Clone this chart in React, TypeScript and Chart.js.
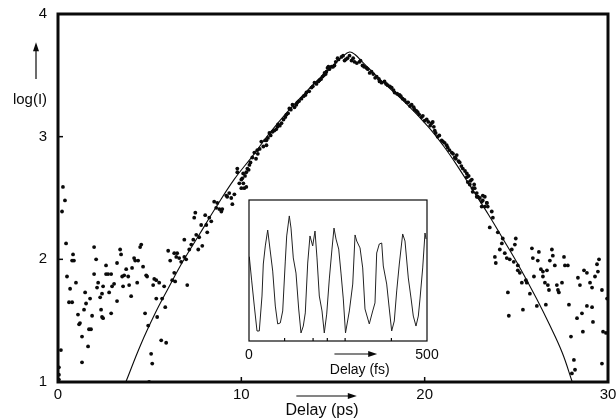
import React, { useEffect, useRef } from 'react';
import { Chart, registerables } from 'chart.js';

Chart.register(...registerables);

const FONT = '"Liberation Sans", Arial, Helvetica, sans-serif';
const INK = '#0a0a0a';

// ---- main axes ----
const xRange = [0, 30];
const yRange = [1, 4];
const xStep = 10;
const yStep = 1;
const xTitle = 'Delay (ps)';
const yTitle = 'log(I)';

// ---- measured points (delay in ps, log I) ----
const leftTailPoints: [number, number][] = [
  [0.27, 2.59], [0.38, 2.48], [0.22, 2.39], [0.44, 2.13], [0.82, 2.04], [0.77, 1.99], [0.87, 1.99],
  [0.49, 1.86], [0.66, 1.76], [0.6, 1.65], [0.77, 1.65], [0.98, 1.81], [1.09, 1.55], [1.2, 1.48],
  [1.15, 1.47], [1.31, 1.37], [1.31, 1.16], [1.64, 1.29], [1.48, 1.73], [1.53, 1.64], [1.42, 1.59],
  [1.75, 1.68], [1.69, 1.43], [1.8, 1.43], [1.86, 1.54], [1.97, 2.1], [2.08, 2.0], [1.97, 1.88],
  [2.19, 1.81], [2.13, 1.77], [2.3, 1.69], [2.4, 1.72], [2.35, 1.59], [2.4, 1.53], [2.46, 1.52],
  [2.62, 1.95], [2.62, 1.88], [2.73, 1.88], [2.9, 1.88], [2.46, 1.78], [2.79, 1.73], [2.9, 1.56],
  [2.95, 1.78], [3.06, 1.8], [3.22, 1.97], [3.39, 2.08], [3.44, 2.04], [3.22, 1.66], [3.5, 1.86],
  [3.61, 1.87], [3.72, 1.92], [3.83, 1.86], [3.88, 1.79], [3.55, 1.78], [3.99, 1.7], [4.15, 2.01],
  [4.21, 1.99], [4.37, 1.99], [4.04, 1.93], [4.32, 1.81], [4.48, 2.1], [4.54, 2.12], [4.64, 1.94],
  [4.81, 1.87], [4.86, 1.86], [4.75, 1.56], [5.25, 1.84], [5.36, 1.83], [5.19, 1.79], [5.52, 1.81],
  [5.79, 1.78], [5.36, 1.68], [5.68, 1.68], [5.85, 1.61], [5.41, 1.53], [4.92, 1.46], [5.63, 1.34],
  [5.9, 1.32], [5.08, 1.23], [5.14, 1.15], [4.97, 1.0], [0.16, 1.26], [0.05, 1.12], [0.05, 1.06],
  [0.05, 1.02], [6.34, 1.89], [6.39, 1.82], [7.05, 1.79], [6.23, 1.83],
];

const risingEdgePoints: [number, number][] = [
  [6.01, 2.07], [6.12, 1.99], [6.34, 2.05], [6.5, 2.05], [6.45, 2.02], [6.61, 2.01], [6.72, 1.98],
  [6.89, 2.02], [6.99, 2.0], [6.89, 2.16], [7.16, 2.08], [7.27, 2.12], [7.38, 2.16], [7.54, 2.2],
  [7.7, 2.18], [7.65, 2.08], [7.87, 2.11], [7.81, 2.28], [8.09, 2.28], [8.14, 2.22], [7.49, 2.38],
  [7.43, 2.34], [8.03, 2.36], [8.25, 2.34], [8.36, 2.31], [8.52, 2.47], [8.69, 2.46], [8.63, 2.42],
  [8.8, 2.41], [8.96, 2.41], [8.91, 2.39], [9.18, 2.52], [9.34, 2.54], [9.45, 2.5], [9.51, 2.45],
  [9.62, 2.53], [9.78, 2.71], [10.0, 2.65], [10.11, 2.62], [10.16, 2.58], [9.23, 2.51], [9.89, 2.62],
  [10.05, 2.66], [10.27, 2.59], [10.0, 2.58], [9.78, 2.74], [10.27, 2.71], [10.33, 2.74], [10.44, 2.77],
];

const crestPoints: [number, number][] = [
  [10.6, 2.83], [10.71, 2.87], [10.87, 2.89], [11.09, 2.96], [11.37, 2.93], [11.37, 2.97], [11.53, 3.03],
  [11.8, 3.05], [11.97, 3.08], [12.19, 3.11], [12.46, 3.18], [12.62, 3.23], [12.79, 3.26], [13.06, 3.28],
  [13.28, 3.31], [13.55, 3.36], [13.83, 3.4], [13.99, 3.44], [14.26, 3.46], [14.43, 3.49], [14.64, 3.53],
  [14.75, 3.57], [14.54, 3.52], [14.7, 3.56], [14.92, 3.57], [15.08, 3.58], [15.25, 3.64], [15.46, 3.65],
  [15.63, 3.62], [15.79, 3.64], [16.01, 3.62], [16.17, 3.61], [16.45, 3.61], [16.61, 3.58], [16.83, 3.56],
  [17.1, 3.53], [17.38, 3.49], [17.54, 3.45], [17.81, 3.45], [17.98, 3.42], [18.2, 3.4], [18.36, 3.36],
  [18.63, 3.34], [18.8, 3.31], [19.02, 3.28], [19.29, 3.26], [19.45, 3.22], [19.62, 3.2], [19.84, 3.16],
  [20.11, 3.14], [20.38, 3.11], [20.44, 3.12], [20.55, 3.05], [20.71, 3.0], [20.93, 2.97], [21.09, 2.95],
  [21.26, 2.91], [21.48, 2.87], [21.64, 2.83], [21.75, 2.85], [21.91, 2.79], [22.08, 2.74], [22.3, 2.7],
  [22.57, 2.65], [22.73, 2.58], [22.9, 2.51], [23.17, 2.48], [23.39, 2.46],
  [10.1, 2.7], [10.2, 2.68], [10.4, 2.73], [10.5, 2.79], [10.8, 2.82], [10.9, 2.86], [11.0, 2.9],
  [11.2, 2.92], [11.3, 2.97], [11.45, 2.99], [11.6, 3.01], [11.7, 3.04], [11.9, 3.06], [12.0, 3.1],
  [12.1, 3.09], [12.3, 3.14], [12.4, 3.16], [12.55, 3.19], [12.7, 3.22], [12.9, 3.24], [13.0, 3.26],
  [13.15, 3.29], [13.4, 3.33], [13.5, 3.34], [13.7, 3.37], [13.9, 3.41], [14.1, 3.43], [14.2, 3.45],
  [14.35, 3.47], [14.5, 3.5], [14.6, 3.51], [14.8, 3.55], [15.0, 3.57], [15.15, 3.61], [15.3, 3.63],
  [15.55, 3.66], [15.7, 3.63], [15.9, 3.66], [16.1, 3.64], [16.3, 3.6], [16.5, 3.62], [16.7, 3.57],
  [16.9, 3.55], [17.0, 3.52], [17.2, 3.51], [17.3, 3.48], [17.5, 3.47], [17.65, 3.44], [17.9, 3.43],
  [18.1, 3.41], [18.3, 3.38], [18.5, 3.35], [18.7, 3.33], [18.9, 3.3], [19.1, 3.28], [19.2, 3.25],
  [19.4, 3.24], [19.55, 3.21], [19.7, 3.18], [19.9, 3.17], [20.0, 3.13], [20.2, 3.12], [20.3, 3.09],
  [20.5, 3.08], [20.6, 3.03], [20.8, 3.01], [21.0, 2.96], [21.2, 2.93], [21.35, 2.89], [21.55, 2.86],
  [21.7, 2.82], [21.85, 2.8], [22.0, 2.76], [22.2, 2.72], [22.4, 2.68], [22.5, 2.64], [22.7, 2.61],
];

const fallingEdgePoints: [number, number][] = [
  [22.3, 2.67], [22.35, 2.63], [22.46, 2.61], [22.62, 2.58], [22.62, 2.55], [22.84, 2.54], [22.84, 2.51],
  [23.01, 2.5], [23.17, 2.52], [23.28, 2.51], [23.11, 2.47], [23.39, 2.46], [23.44, 2.43], [23.28, 2.43],
  [23.11, 2.43], [23.66, 2.39], [23.72, 2.34], [23.55, 2.26], [23.99, 2.22], [24.21, 2.13], [24.26, 2.17],
  [24.97, 2.17], [24.92, 2.12], [24.1, 2.08], [24.37, 2.05], [24.75, 2.08], [23.83, 2.02], [23.88, 1.97],
  [24.48, 2.01], [24.64, 2.0], [24.86, 1.98], [25.08, 1.95], [25.08, 1.91], [25.19, 1.89], [25.52, 1.83],
  [25.3, 1.81], [25.57, 1.81],
];

const rightTailPoints: [number, number][] = [
  [25.85, 2.09], [26.23, 2.06], [25.9, 2.01], [26.17, 1.99], [25.96, 1.86], [26.34, 1.92], [26.45, 1.9],
  [26.67, 1.91], [26.45, 1.86], [26.56, 1.81], [26.72, 1.79], [26.94, 2.08], [26.99, 2.03], [26.83, 1.99],
  [27.1, 1.95], [26.78, 1.75], [27.21, 1.79], [27.27, 1.75], [27.49, 1.81], [27.6, 2.02], [27.65, 1.95],
  [27.81, 1.95], [27.32, 1.73], [25.74, 1.72], [24.54, 1.73], [26.61, 1.63], [26.12, 1.62], [25.36, 1.59],
  [24.59, 1.54], [27.87, 1.63], [27.98, 1.37], [28.14, 1.18], [28.2, 1.1], [28.03, 1.07], [28.36, 1.85],
  [28.69, 1.91], [28.85, 1.89], [29.02, 1.81], [28.47, 1.79], [29.13, 1.77], [29.29, 1.86], [29.4, 1.96],
  [29.51, 2.0], [29.45, 1.9], [29.67, 1.75], [28.85, 1.62], [29.13, 1.61], [28.58, 1.56], [28.31, 1.52],
  [29.18, 1.49], [28.63, 1.41], [29.73, 1.41], [29.67, 1.15], [29.95, 1.68], [29.89, 1.4],
];

// ---- fitted curve ----
const fitX = [3.7, 4.5, 5.3, 6.0, 6.8, 7.7, 8.6, 9.6, 10.6, 11.5, 12.5, 13.5, 14.3, 15.0, 15.5, 15.9, 16.2,
  16.6, 17.0, 17.9, 19.0, 20.2, 21.0, 21.7, 22.6, 23.5, 24.3, 25.2, 26.1, 26.8, 27.5, 28.05];
const fitY = [1.0, 1.3, 1.56, 1.76, 1.98, 2.2, 2.42, 2.65, 2.84, 3.02, 3.2, 3.36, 3.48, 3.58, 3.65, 3.69, 3.67,
  3.61, 3.55, 3.42, 3.27, 3.08, 2.93, 2.78, 2.57, 2.36, 2.16, 1.93, 1.68, 1.47, 1.24, 1.0];

// ---- inset: oscillation (delay in fs, signal in arbitrary units) ----
const insetRange = [0, 500];
const insetTitle = 'Delay (fs)';
const insetFs = [0.8, 7.6, 14.9, 22.5, 28.9, 36.5, 40.2, 45.8, 52.5, 59.0, 66.6, 73.9, 80.6, 87.9, 94.7,
  102.0, 105.9, 113.2, 118.0, 124.4, 132.0, 139.6, 146.1, 152.5, 158.1, 164.9, 171.3, 178.9, 185.4, 191.0,
  197.5, 205.1, 211.5, 218.3, 225.6, 233.1, 238.8, 244.4, 252.0, 258.4, 264.9, 271.1, 281.9, 291.4, 297.9,
  302.6, 311.9, 319.4, 325.8, 337.9, 347.5, 353.9, 358.7, 366.0, 372.8, 377.2, 386.8, 394.1, 400.8, 408.1,
  414.9, 422.2, 431.7, 438.2, 447.5, 455.1, 461.5, 469.1, 475.6, 480.3, 487.9, 494.4, 497.2];
const insetSignal = [59.8, 42.6, 24.8, 7.1, 7.1, 31.9, 54.6, 67.4, 78.7, 65.2, 49.6, 24.8, 12.1, 12.8, 21.3,
  56.7, 74.5, 88.7, 80.1, 58.9, 48.2, 22.7, 5.7, 10.6, 19.9, 55.3, 74.5, 67.4, 78.0, 58.9,
  31.9, 21.3, 5.7, 19.1, 44.0, 65.2, 80.1, 72.3, 65.2, 48.2, 29.8, 5.7, 21.3, 40.4, 75.2,
  70.9, 66.0, 51.8, 22.7, 12.1, 21.3, 27.0, 62.4, 68.8, 69.5, 53.2, 40.4, 22.7, 7.1, 14.2,
  35.5, 54.6, 75.9, 70.9, 44.7, 30.5, 17.7, 10.6, 17.7, 29.8, 51.8, 76.6, 72.3];

const toXY = (pts: [number, number][]) => pts.map(([x, y]) => ({ x, y }));

function arrow(ctx: CanvasRenderingContext2D, x1: number, y1: number, x2: number, y2: number) {
  const ang = Math.atan2(y2 - y1, x2 - x1);
  ctx.beginPath();
  ctx.moveTo(x1, y1);
  ctx.lineTo(x2 - Math.cos(ang) * 6, y2 - Math.sin(ang) * 6);
  ctx.stroke();
  ctx.beginPath();
  ctx.moveTo(x2, y2);
  ctx.lineTo(x2 - Math.cos(ang) * 9 + Math.sin(ang) * 3, y2 - Math.sin(ang) * 9 - Math.cos(ang) * 3);
  ctx.lineTo(x2 - Math.cos(ang) * 9 - Math.sin(ang) * 3, y2 - Math.sin(ang) * 9 + Math.cos(ang) * 3);
  ctx.closePath();
  ctx.fill();
}

const mainDecor = {
  id: 'mainDecor',
  afterDatasetsDraw(chart: any) {
    const { ctx, chartArea: a, scales } = chart;
    ctx.save();
    ctx.strokeStyle = INK;
    ctx.fillStyle = INK;
    ctx.lineWidth = 3;
    ctx.strokeRect(a.left, a.top, a.right - a.left, a.bottom - a.top);
    ctx.lineWidth = 1.5;
    [10, 20].forEach((v) => {
      const x = scales.x.getPixelForValue(v);
      ctx.beginPath(); ctx.moveTo(x, a.bottom); ctx.lineTo(x, a.bottom - 5); ctx.stroke();
    });
    [2, 3].forEach((v) => {
      const y = scales.y.getPixelForValue(v);
      ctx.beginPath(); ctx.moveTo(a.left, y); ctx.lineTo(a.left + 5, y); ctx.stroke();
    });
    // x axis arrow and title
    ctx.lineWidth = 1.2;
    const xa1 = scales.x.getPixelForValue(13);
    const xa2 = scales.x.getPixelForValue(16.3);
    arrow(ctx, xa1, a.bottom + 14, xa2, a.bottom + 14);
    ctx.font = `16px ${FONT}`;
    ctx.textAlign = 'center';
    ctx.textBaseline = 'middle';
    ctx.fillText(xTitle, scales.x.getPixelForValue(14.4), a.bottom + 29);
    // y axis arrow and title
    arrow(ctx, a.left - 22, scales.y.getPixelForValue(3.47), a.left - 22, scales.y.getPixelForValue(3.77));
    ctx.font = `15px ${FONT}`;
    ctx.fillText(yTitle, a.left - 28, scales.y.getPixelForValue(3.3));
    ctx.restore();
  },
};

const insetDecor = {
  id: 'insetDecor',
  afterDatasetsDraw(chart: any) {
    const { ctx, chartArea: a, scales } = chart;
    ctx.save();
    ctx.strokeStyle = INK;
    ctx.fillStyle = INK;
    ctx.lineWidth = 1.2;
    ctx.strokeRect(a.left, a.top, a.right - a.left, a.bottom - a.top);
    [100, 180, 220, 270, 400].forEach((v) => {
      const x = scales.x.getPixelForValue(v);
      ctx.beginPath(); ctx.moveTo(x, a.bottom); ctx.lineTo(x, a.bottom - 3); ctx.stroke();
    });
    arrow(ctx, scales.x.getPixelForValue(240), a.bottom + 13, scales.x.getPixelForValue(360), a.bottom + 13);
    ctx.font = `14px ${FONT}`;
    ctx.textAlign = 'center';
    ctx.textBaseline = 'middle';
    ctx.fillText(insetTitle, scales.x.getPixelForValue(311), a.bottom + 29);
    ctx.restore();
  },
};

export default function App() {
  const mainRef = useRef<HTMLCanvasElement>(null);
  const insetRef = useRef<HTMLCanvasElement>(null);

  useEffect(() => {
    const main = new Chart(mainRef.current!, {
      type: 'scatter',
      data: {
        datasets: [
          {
            type: 'line',
            data: fitX.map((x, i) => ({ x, y: fitY[i] })),
            borderColor: INK,
            borderWidth: 1.1,
            pointRadius: 0,
            tension: 0.4,
            fill: false,
          } as any,
          {
            data: toXY([...leftTailPoints, ...risingEdgePoints, ...crestPoints, ...fallingEdgePoints, ...rightTailPoints]),
            pointRadius: 1.9,
            pointBackgroundColor: INK,
            pointBorderWidth: 0,
            borderWidth: 0,
          },
        ],
      },
      options: {
        animation: false,
        responsive: true,
        maintainAspectRatio: false,
        layout: { padding: { left: 0, top: 14, right: 8, bottom: 0 } },
        plugins: { legend: { display: false }, tooltip: { enabled: false } },
        events: [],
        scales: {
          x: {
            type: 'linear',
            min: xRange[0],
            max: xRange[1],
            grid: { display: false, drawTicks: false },
            border: { display: false },
            ticks: { stepSize: xStep, padding: 4, color: INK, font: { family: FONT, size: 15 } },
            afterFit(s: any) { s.height = 38; s.paddingLeft = 0; s.paddingRight = 0; },
          },
          y: {
            type: 'linear',
            min: yRange[0],
            max: yRange[1],
            grid: { display: false, drawTicks: false },
            border: { display: false },
            ticks: { stepSize: yStep, padding: 11, color: INK, font: { family: FONT, size: 15 } },
            afterFit(s: any) { s.width = 58; s.paddingTop = 0; s.paddingBottom = 0; },
          },
        },
      },
      plugins: [mainDecor],
    });

    const inset = new Chart(insetRef.current!, {
      type: 'line',
      data: {
        datasets: [
          {
            data: insetFs.map((x, i) => ({ x, y: insetSignal[i] })),
            borderColor: '#222',
            borderWidth: 1,
            pointRadius: 0,
            tension: 0,
            fill: false,
          },
        ],
      },
      options: {
        animation: false,
        responsive: true,
        maintainAspectRatio: false,
        layout: { padding: { left: 9, top: 10, right: 13, bottom: 0 } },
        plugins: { legend: { display: false }, tooltip: { enabled: false } },
        events: [],
        scales: {
          x: {
            type: 'linear',
            min: insetRange[0],
            max: insetRange[1],
            grid: { display: false, drawTicks: false },
            border: { display: false },
            ticks: { stepSize: 500, padding: 6, color: INK, font: { family: FONT, size: 14 } },
            afterFit(s: any) { s.height = 39; s.paddingLeft = 0; s.paddingRight = 0; },
          },
          y: { type: 'linear', min: 0, max: 100, display: false },
        },
      },
      plugins: [insetDecor],
    });

    return () => {
      main.destroy();
      inset.destroy();
    };
  }, []);

  return (
    <div style={{ position: 'fixed', left: 0, top: 0, width: 616, height: 420, background: '#fff', overflow: 'hidden' }}>
      <div style={{ position: 'absolute', left: 0, top: 0, width: 616, height: 420 }}>
        <canvas ref={mainRef} />
      </div>
      <div style={{ position: 'absolute', left: 240, top: 190, width: 200, height: 190 }}>
        <canvas ref={insetRef} />
      </div>
    </div>
  );
}
